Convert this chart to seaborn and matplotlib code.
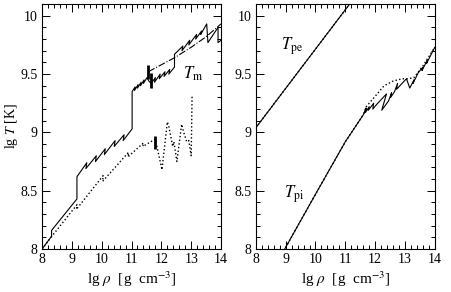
import numpy as np
import pandas as pd
import matplotlib
matplotlib.use("Agg")
import matplotlib.pyplot as plt
import seaborn as sns
from matplotlib.ticker import MultipleLocator

# left panel: melting temperature T_m (solid), dash-dot envelope, dotted variant
tm_x = [8.0, 8.32, 8.32, 9.17, 9.17, 9.50, 9.47, 9.82, 9.79, 10.12, 10.09, 10.45, 10.42,
        10.75, 10.72, 11.02, 11.02, 11.12, 11.10, 11.22, 11.20, 11.32, 11.30, 11.42, 11.40,
        11.52, 11.58, 11.66, 11.80, 11.77, 11.96, 11.93, 12.12, 12.09, 12.28, 12.25, 12.44,
        12.44, 12.72, 12.69, 12.95, 12.92, 13.18, 13.15, 13.35, 13.32, 13.52, 13.56, 13.90,
        13.90, 14.0]
tm_y = [8.0, 8.11, 8.16, 8.43, 8.62, 8.74, 8.69, 8.80, 8.75, 8.86, 8.81, 8.93, 8.88,
        8.98, 8.93, 9.03, 9.35, 9.39, 9.36, 9.41, 9.38, 9.43, 9.40, 9.45, 9.42,
        9.47, 9.44, 9.42, 9.47, 9.43, 9.50, 9.46, 9.52, 9.48, 9.54, 9.50, 9.56,
        9.67, 9.74, 9.70, 9.79, 9.75, 9.84, 9.80, 9.87, 9.84, 9.93, 9.77, 9.90,
        9.77, 9.79]

env_x = [11.56, 12.44, 13.0, 13.5, 14.0]
env_y = [9.52, 9.64, 9.73, 9.82, 9.93]

tmd_x = [8.0, 8.30, 9.17, 9.15, 10.05, 10.03, 10.90, 10.88, 11.40, 11.38, 11.78, 11.86,
         12.02, 12.20, 12.25, 12.38, 12.42, 12.52, 12.68, 12.75, 12.85, 12.92, 13.00, 13.03]
tmd_y = [8.0, 8.10, 8.38, 8.34, 8.63, 8.58, 8.83, 8.79, 8.91, 8.88, 8.94, 8.87,
         8.68, 9.09, 9.05, 8.88, 8.92, 8.75, 9.07, 9.00, 8.92, 8.93, 8.80, 9.32]

# short thick marks
bar_x = [11.54, 11.66, 11.80]
bar_lo = [9.46, 9.38, 8.86]
bar_hi = [9.58, 9.51, 8.97]

# right panel: electron and ion plasma temperatures
pe_x = [8.0, 11.5]
pe_y = [9.04, 10.22]

pi_x = [8.88, 10.0, 11.0, 11.60, 11.70, 11.67, 11.80, 11.77, 11.95, 11.92, 12.05, 12.38,
        12.22, 12.45, 12.55, 12.52, 12.65, 12.75, 12.72, 12.90, 13.05, 13.16, 13.30,
        13.27, 13.44, 13.60, 13.57, 13.75, 13.72, 14.0]
pi_y = [7.96, 8.47, 8.92, 9.15, 9.21, 9.17, 9.22, 9.19, 9.25, 9.20, 9.24, 9.33,
        9.19, 9.27, 9.34, 9.30, 9.35, 9.42, 9.37, 9.42, 9.46, 9.38, 9.45,
        9.42, 9.51, 9.56, 9.53, 9.62, 9.59, 9.73]

pid_x = [8.88, 10.0, 11.0, 11.60, 11.70, 12.0, 12.3, 12.6, 12.9, 13.1, 13.3, 13.6, 14.0]
pid_y = [7.96, 8.47, 8.92, 9.15, 9.22, 9.31, 9.40, 9.44, 9.46, 9.46, 9.47, 9.57, 9.73]

sns.set_style("ticks")
plt.rcParams["font.family"] = ["Liberation Serif", "DejaVu Serif"]
plt.rcParams["mathtext.fontset"] = "stix"
plt.rcParams["xtick.direction"] = "in"
plt.rcParams["ytick.direction"] = "in"
for key in ["text.color", "axes.labelcolor", "axes.edgecolor", "xtick.color", "ytick.color"]:
    plt.rcParams[key] = "black"

fig = plt.figure(figsize=(4.52, 2.92), dpi=100)
ax1 = fig.add_axes([0.093, 0.147, 0.396, 0.839])
ax2 = fig.add_axes([0.566, 0.147, 0.396, 0.839])


def line(ax, x, y, ls="-", lw=0.8):
    sns.lineplot(x=x, y=y, sort=False, estimator=None, color="k",
                 linestyle=ls, linewidth=lw, ax=ax)


line(ax1, tm_x, tm_y)
line(ax1, env_x, env_y, ls="-.")
line(ax1, tmd_x, tmd_y, ls=":", lw=1.0)
for bx, lo, hi in zip(bar_x, bar_lo, bar_hi):
    ax1.plot([bx, bx], [lo, hi], color="k", lw=2.0, solid_capstyle="butt")
ax1.text(12.72, 9.50, r"$T_{\rm m}$", fontsize=12, va="center", ha="left")

line(ax2, pe_x, pe_y)
line(ax2, pe_x, pe_y, ls=":", lw=1.0)
line(ax2, pi_x, pi_y)
line(ax2, pid_x, pid_y, ls=":", lw=1.0)
ax2.text(8.85, 9.74, r"$T_{\rm pe}$", fontsize=12, va="center", ha="left")
ax2.text(8.95, 8.47, r"$T_{\rm pi}$", fontsize=12, va="center", ha="left")

for ax in (ax1, ax2):
    ax.set_xlim(8, 14)
    ax.set_ylim(8, 10.1)
    ax.xaxis.set_major_locator(MultipleLocator(1))
    ax.xaxis.set_minor_locator(MultipleLocator(0.2))
    ax.yaxis.set_major_locator(MultipleLocator(0.5))
    ax.yaxis.set_minor_locator(MultipleLocator(0.1))
    ax.set_yticks([8, 8.5, 9, 9.5, 10])
    ax.set_yticklabels(["8", "8.5", "9", "9.5", "10"])
    ax.tick_params(which="both", top=True, right=True, labelsize=10, width=0.7, pad=3)
    ax.tick_params(which="major", length=6)
    ax.tick_params(which="minor", length=3)
    for s in ax.spines.values():
        s.set_linewidth(0.8)
    ax.set_xlabel(r"lg $\rho$  [g  cm$^{-3}$]", fontsize=11, labelpad=2)
    ax.set_ylabel("")

ax1.set_ylabel(r"lg $T$ [K]", fontsize=10)
ax1.yaxis.set_label_coords(-0.125, 0.5)

fig.savefig("out.png", dpi=100)
